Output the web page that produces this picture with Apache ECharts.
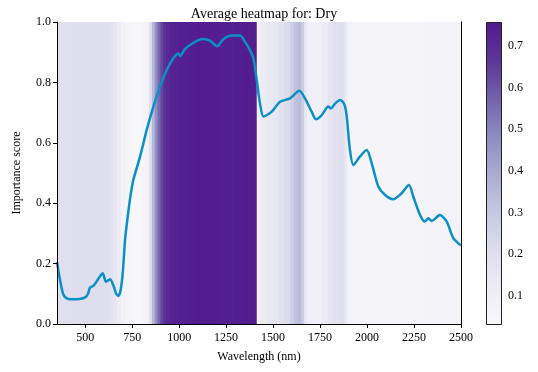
<!DOCTYPE html>
<html>
<head>
<meta charset="utf-8">
<script src="https://cdn.jsdelivr.net/npm/echarts@6/dist/echarts.min.js"></script>
<style>
  html, body { margin: 0; padding: 0; background: #fff; }
  #chart { width: 538px; height: 372px; }
</style>
</head>
<body>
<div id="chart"></div>
<script>
// line: importance score along the wavelength
var wavelengths = [350, 365, 380, 392, 410, 440, 470, 500, 515, 525, 545, 570, 593, 611, 632, 650, 665, 676, 688, 700,
  712, 724, 740, 756, 792, 827, 863, 898, 934, 969, 996, 1005, 1030, 1058, 1102, 1129, 1164, 1203, 1235, 1280,
  1324, 1350, 1377, 1395, 1413, 1430, 1448, 1470, 1493, 1537, 1590, 1640, 1670, 1705, 1728, 1759, 1794, 1808, 1830, 1856,
  1872, 1883, 1892, 1909, 1927, 1962, 1998, 2025, 2060, 2096, 2140, 2184, 2223, 2246, 2282, 2308, 2326, 2344, 2388, 2424,
  2459, 2491, 2500];
var scores = [0.205, 0.15, 0.105, 0.09, 0.083, 0.082, 0.083, 0.088, 0.1, 0.12, 0.127, 0.15, 0.168, 0.14, 0.148, 0.128, 0.1, 0.093, 0.11, 0.17,
  0.278, 0.344, 0.42, 0.477, 0.554, 0.642, 0.72, 0.786, 0.841, 0.88, 0.896, 0.887, 0.91, 0.924, 0.94, 0.944, 0.938, 0.92, 0.943, 0.955,
  0.955, 0.935, 0.907, 0.88, 0.808, 0.731, 0.687, 0.693, 0.703, 0.736, 0.747, 0.772, 0.747, 0.703, 0.678, 0.692, 0.72, 0.714, 0.73, 0.742,
  0.735, 0.72, 0.687, 0.576, 0.526, 0.554, 0.576, 0.532, 0.455, 0.427, 0.413, 0.433, 0.46, 0.422, 0.361, 0.339, 0.35, 0.341, 0.361, 0.339,
  0.284, 0.264, 0.262];

// heatmap bands: each band runs from its start to the next start (last one to 2500)
var bandStarts = [350, 400, 450, 500, 550, 600, 625, 650, 670, 690, 710, 750, 800, 820, 840, 855, 870, 885, 900, 915,
  930, 950, 1000, 1050, 1100, 1150, 1200, 1250, 1300, 1350, 1400, 1413, 1430, 1460, 1500, 1530, 1560, 1590, 1610, 1630,
  1650, 1665, 1680, 1720, 1760, 1790, 1820, 1850, 1880, 1895, 1920, 2000, 2100, 2200, 2300, 2400];
var bandValues = [0.20, 0.21, 0.21, 0.21, 0.21, 0.20, 0.19, 0.16, 0.12, 0.08, 0.06, 0.05, 0.06, 0.08, 0.2, 0.35, 0.47, 0.56, 0.63, 0.68,
  0.71, 0.73, 0.74, 0.745, 0.75, 0.75, 0.74, 0.74, 0.745, 0.75, 0.74, 0.07, 0.12, 0.15, 0.16, 0.19, 0.22, 0.27, 0.32, 0.34,
  0.28, 0.16, 0.1, 0.09, 0.12, 0.17, 0.19, 0.2, 0.14, 0.07, 0.06, 0.06, 0.06, 0.065, 0.07, 0.07];
var xMin = 350, xMax = 2500;

var xTicks = [500, 750, 1000, 1250, 1500, 1750, 2000, 2250, 2500];
var yTicks = [0, 0.2, 0.4, 0.6, 0.8, 1.0];
var cbTicks = [0.1, 0.2, 0.3, 0.4, 0.5, 0.6, 0.7];
var cbMin = 0.033, cbMax = 0.757;

var purples = ['#f9f8fb', '#edecf5', '#dddded', '#c6c7e1', '#a9abd1', '#8e8bc1', '#7261ad', '#5d3598', '#521a8e'];

var bandData = bandStarts.map(function (s, i) {
  var e = i < bandStarts.length - 1 ? bandStarts[i + 1] : xMax;
  return [s, e, bandValues[i]];
});
var lineData = wavelengths.map(function (w, i) { return [w, scores[i]]; });

// colour bar gradient (bottom = min, top = max)
var cbStops = purples.map(function (c, i) {
  return { offset: 1 - i / (purples.length - 1), color: c };
}).reverse();

var font = 'Liberation Serif';
var txt = { color: '#000', fontFamily: font, fontSize: 12 };

function hiddenAxis(extra) {
  var a = {
    type: 'value', min: 0, max: 1,
    axisLine: { show: true, lineStyle: { color: '#000', width: 1 } },
    axisTick: { show: false }, axisLabel: { show: false }, splitLine: { show: false }, z: 10
  };
  for (var k in extra) a[k] = extra[k];
  return a;
}

var chart = echarts.init(document.getElementById('chart'));
chart.setOption({
  animation: false,
  title: {
    text: 'Average heatmap for: Dry',
    left: 259, top: 2, textAlign: 'center',
    textStyle: { color: '#000', fontFamily: font, fontSize: 14, fontWeight: 'normal' }
  },
  grid: [
    { left: 57, right: 77, top: 22, bottom: 48 },
    { left: 486, width: 15, top: 22, bottom: 48 }
  ],
  visualMap: {
    type: 'continuous',
    show: false,
    seriesIndex: 0,
    dimension: 2,
    min: cbMin, max: cbMax,
    inRange: { color: purples }
  },
  graphic: [{
    type: 'rect', left: 486, top: 22, z: 100,
    shape: { x: 0, y: 0, width: 15, height: 302 },
    style: {
      fill: new echarts.graphic.LinearGradient(0, 1, 0, 0, purples.map(function (c, i) {
        return { offset: i / (purples.length - 1), color: c };
      })),
      stroke: '#222', lineWidth: 1
    }
  }],
  xAxis: [
    {
      type: 'value', min: xMin, max: xMax, gridIndex: 0,
      name: 'Wavelength (nm)', nameLocation: 'middle', nameGap: 27, nameTextStyle: txt,
      axisLine: { show: true, lineStyle: { color: '#000', width: 1 } },
      axisTick: { show: true, length: 4, customValues: xTicks, lineStyle: { color: '#000' } },
      axisLabel: {
        customValues: xTicks, margin: 8, color: '#000', fontFamily: font, fontSize: 12,
        formatter: function (v) { return String(v); }
      },
      splitLine: { show: false }, z: 10
    },
    hiddenAxis({ min: xMin, max: xMax, gridIndex: 0, position: 'top' }),
    hiddenAxis({ gridIndex: 1, axisLine: { show: false } })
  ],
  yAxis: [
    {
      type: 'value', min: 0, max: 1, gridIndex: 0,
      name: 'Importance score', nameLocation: 'middle', nameGap: 34, nameTextStyle: txt,
      axisLine: { show: true, lineStyle: { color: '#000', width: 1 } },
      axisTick: { show: true, length: 4, customValues: yTicks, lineStyle: { color: '#000' } },
      axisLabel: {
        customValues: yTicks, margin: 6, color: '#000', fontFamily: font, fontSize: 12,
        formatter: function (v) { return v.toFixed(1); }
      },
      splitLine: { show: false }, z: 10
    },
    hiddenAxis({ gridIndex: 0, position: 'right' }),
    {
      type: 'value', min: cbMin, max: cbMax, gridIndex: 1, position: 'right',
      axisLine: { show: false },
      axisTick: { show: true, length: 4, customValues: cbTicks, lineStyle: { color: '#000' } },
      axisLabel: {
        customValues: cbTicks, margin: 7, color: '#000', fontFamily: font, fontSize: 12,
        formatter: function (v) { return v.toFixed(1); }
      },
      splitLine: { show: false }, z: 10
    }
  ],
  series: [
    {
      type: 'custom',
      xAxisIndex: 0, yAxisIndex: 0,
      data: bandData,
      encode: { x: [0, 1] },
      renderItem: function (params, api) {
        var p0 = api.coord([api.value(0), 1]);
        var p1 = api.coord([api.value(1), 0]);
        var isLast = api.value(1) >= xMax;
        return {
          type: 'rect',
          shape: { x: p0[0], y: p0[1], width: p1[0] - p0[0] + (isLast ? 0 : 1.2), height: p1[1] - p0[1] },
          style: { fill: api.visual('color') }
        };
      },
      z: 1
    },
    {
      type: 'line',
      xAxisIndex: 0, yAxisIndex: 0,
      data: lineData,
      smooth: 0.25,
      showSymbol: false,
      lineStyle: { color: '#0a8fc6', width: 2.5 },
      z: 5
    }
  ]
});
</script>
</body>
</html>
